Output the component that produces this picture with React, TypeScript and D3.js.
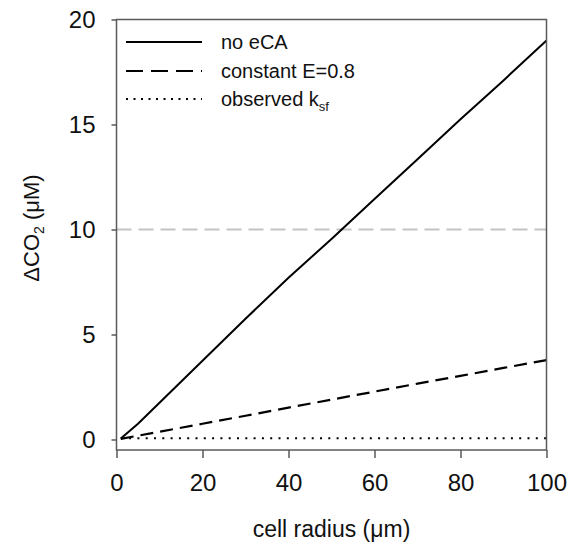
import React, { useEffect, useRef } from 'react';
import * as d3 from 'd3';

// cell radius (um)
const radius = [1, 5, 10, 15, 20, 30, 40, 50, 60, 70, 80, 90, 100];
// delta CO2 (uM) for each series
const noECA = [0.05, 0.75, 1.75, 2.75, 3.75, 5.75, 7.7, 9.55, 11.45, 13.35, 15.25, 17.1, 19.0];
const constE = [0.03, 0.18, 0.37, 0.56, 0.75, 1.13, 1.52, 1.9, 2.28, 2.66, 3.03, 3.41, 3.78];
const observed = [0.06, 0.06, 0.06, 0.06, 0.06, 0.06, 0.06, 0.06, 0.06, 0.06, 0.06, 0.06, 0.06];
const refLevel = 10;

const xTicks = [0, 20, 40, 60, 80, 100];
const yTicks = [0, 5, 10, 15, 20];

const App = () => {
  const ref = useRef<SVGSVGElement | null>(null);

  useEffect(() => {
    const w = 573, h = 550;
    const margin = { left: 116.5, right: 26.5, top: 19.5, bottom: 100 };
    const axisColor = '#5a5a5a';
    const font = 'Liberation Sans, Arial, sans-serif';

    const svg = d3.select(ref.current);
    svg.selectAll('*').remove();

    const x = d3.scaleLinear().domain([0, 100]).range([margin.left, w - margin.right]);
    const y = d3.scaleLinear().domain([-0.5, 20]).range([h - margin.bottom, margin.top]);

    // reference line at 10 uM
    svg.append('line')
      .attr('x1', x(0)).attr('x2', x(100))
      .attr('y1', y(refLevel)).attr('y2', y(refLevel))
      .attr('stroke', '#c4c4c4').attr('stroke-width', 2)
      .attr('stroke-dasharray', '15,7');

    const line = d3.line<number>()
      .x((d, i) => x(radius[i]))
      .y((d) => y(d));

    const series = [
      { name: 'no eCA', values: noECA, dash: null, legDash: null, width: 2 },
      { name: 'constant E=0.8', values: constE, dash: '13,7', legDash: '17,8', width: 2.2 },
      { name: 'observed', values: observed, dash: '2,6.3', legDash: '2,5.5', width: 2 },
    ];

    series.forEach((s) => {
      svg.append('path')
        .datum(s.values)
        .attr('d', line)
        .attr('fill', 'none')
        .attr('stroke', '#000')
        .attr('stroke-width', s.width)
        .attr('stroke-dasharray', s.dash);
    });

    // frame
    svg.append('rect')
      .attr('x', x(0)).attr('y', y(20))
      .attr('width', x(100) - x(0)).attr('height', y(-0.5) - y(20))
      .attr('fill', 'none').attr('stroke', axisColor).attr('stroke-width', 1.5);

    const xAxis = svg.append('g')
      .attr('transform', 'translate(0,' + y(-0.5) + ')')
      .call(d3.axisBottom(x).tickValues(xTicks).tickSize(8).tickPadding(16).tickSizeOuter(0));
    const yAxis = svg.append('g')
      .attr('transform', 'translate(' + x(0) + ',0)')
      .call(d3.axisLeft(y).tickValues(yTicks).tickSize(5).tickPadding(16).tickSizeOuter(0));

    [xAxis, yAxis].forEach((g) => {
      g.select('.domain').remove();
      g.selectAll('line').attr('stroke', axisColor).attr('stroke-width', 1.5);
      g.selectAll('text')
        .attr('fill', '#111')
        .style('font-family', font)
        .style('font-size', '24px');
    });

    // axis titles
    svg.append('text')
      .attr('x', (x(0) + x(100)) / 2).attr('y', 537)
      .attr('text-anchor', 'middle')
      .style('font-family', font).style('font-size', '23px').attr('fill', '#111')
      .text('cell radius (\u03bcm)');

    const yt = svg.append('text')
      .attr('transform', 'translate(39,228) rotate(-90)')
      .attr('text-anchor', 'middle')
      .style('font-family', font).style('font-size', '22px').attr('fill', '#111');
    yt.append('tspan').text('\u0394CO');
    yt.append('tspan').attr('dy', 5).style('font-size', '14px').text('2');
    yt.append('tspan').attr('dy', -5).text(' (\u03bcM)');

    // legend
    const legY = [42, 71, 99];
    series.forEach((s, i) => {
      svg.append('line')
        .attr('x1', 126).attr('x2', 202)
        .attr('y1', legY[i]).attr('y2', legY[i])
        .attr('stroke', '#000').attr('stroke-width', 2)
        .attr('stroke-dasharray', s.legDash);
      const t = svg.append('text')
        .attr('x', 221).attr('y', legY[i] + 7)
        .style('font-family', font).style('font-size', '20px').attr('fill', '#111');
      if (i === 2) {
        t.append('tspan').text('observed k');
        t.append('tspan').attr('dy', 5).style('font-size', '13px').text('sf');
      } else {
        t.text(s.name);
      }
    });
  }, []);

  return (
    <svg ref={ref} width={573} height={550}
      style={{ position: 'absolute', left: 0, top: 0, background: '#fff' }} />
  );
};

export default App;
